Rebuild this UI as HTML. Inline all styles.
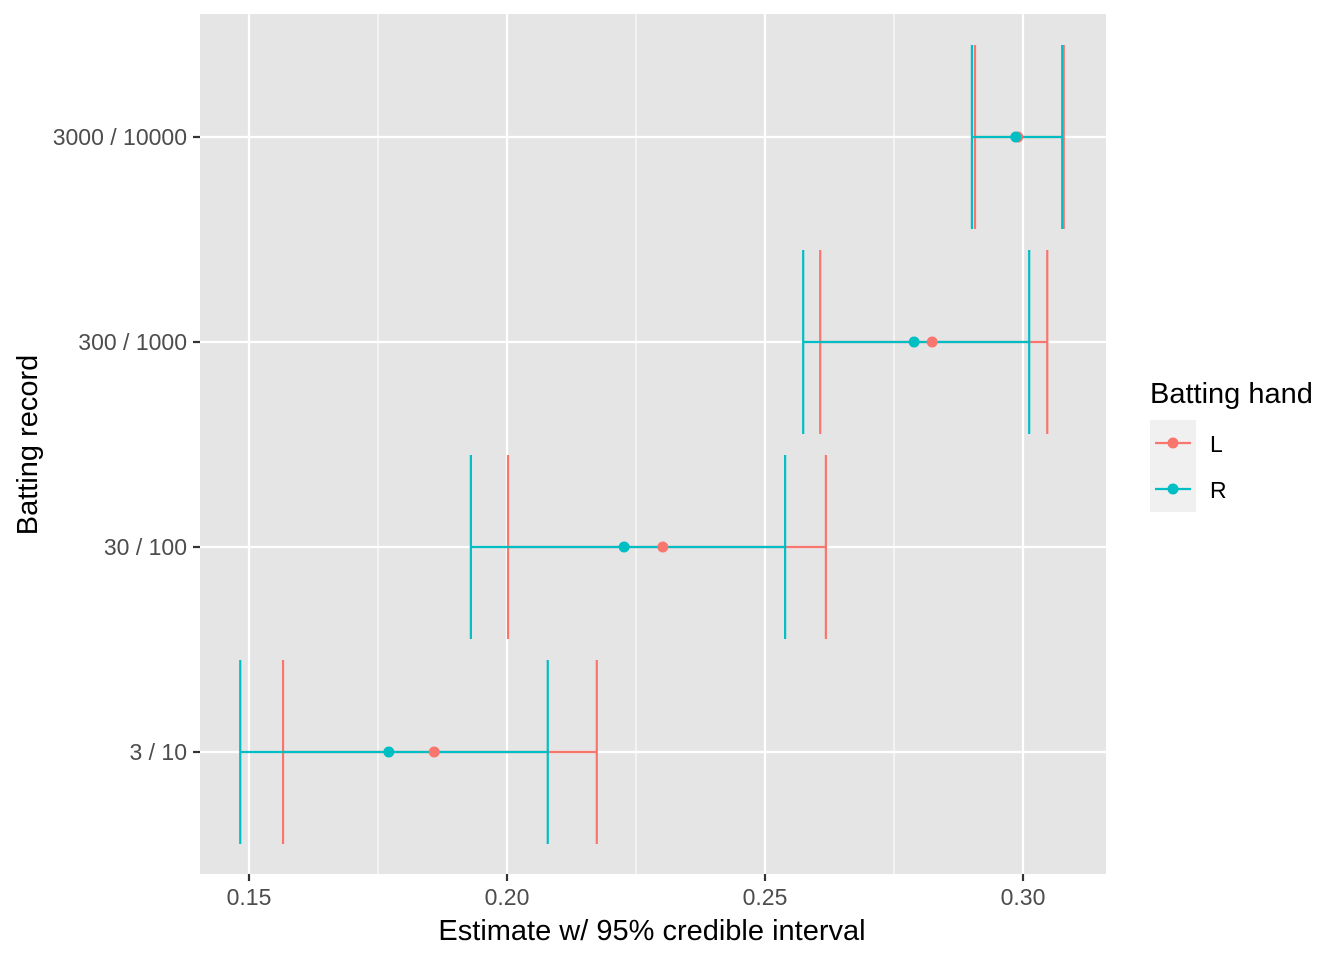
<!DOCTYPE html>
<html><head><meta charset="utf-8"><style>
html,body{margin:0;padding:0;background:#fff;}
svg{display:block;font-family:"Liberation Sans",Arial,sans-serif;}
</style></head><body>
<svg id="chart" width="1344" height="960" viewBox="0 0 1344 960">
<rect x="200" y="14" width="906" height="860" fill="#e5e5e5"/>
<g id="grid"></g>
<g id="marks"></g>
<g id="axes"></g>
<text x="652" y="940" text-anchor="middle" font-size="29" fill="#000">Estimate w/ 95% credible interval</text>
<text transform="translate(37,445) rotate(-90)" text-anchor="middle" font-size="29" fill="#000">Batting record</text>
<g>
<text x="1150" y="403" font-size="29" fill="#000">Batting hand</text>
<rect x="1150" y="420" width="46" height="92" fill="#f0f0f0"/>
<g>
<line x1="1155" y1="443" x2="1191" y2="443" stroke="#F8766D" stroke-width="2.2"/>
<circle cx="1173" cy="443" r="5.5" fill="#F8766D"/>
<text x="1210" y="452" font-size="23" fill="#000">L</text></g>
<g>
<line x1="1155" y1="489" x2="1191" y2="489" stroke="#00BFC4" stroke-width="2.2"/>
<circle cx="1173" cy="489" r="5.5" fill="#00BFC4"/>
<text x="1210" y="498" font-size="23" fill="#000">R</text></g>
</g>
</svg>
<script>
const categories=["3 / 10","30 / 100","300 / 1000","3000 / 10000"];
const lowL=[0.1566,0.2002,0.2607,0.2907];
const estL=[0.1859,0.2302,0.2824,0.2990];
const highL=[0.2174,0.2618,0.3047,0.3079];
const lowR=[0.1483,0.1930,0.2574,0.2901];
const estR=[0.1771,0.2227,0.2789,0.2986];
const highR=[0.2079,0.2539,0.3012,0.3076];
const xTicks=[0.15,0.20,0.25,0.30];
const xTickLabels=["0.15","0.20","0.25","0.30"];
const xMinor=[0.175,0.225,0.275];

const NS="http://www.w3.org/2000/svg";
const xs=v=>249+(v-0.15)*5160;
const ys=i=>752-i*205;
function mk(parent,tag,attrs){const e=document.createElementNS(NS,tag);for(const k in attrs)e.setAttribute(k,attrs[k]);parent.appendChild(e);return e;}
const grid=document.getElementById('grid'),marks=document.getElementById('marks'),axes=document.getElementById('axes');
xMinor.forEach(v=>{const l=mk(grid,'line',{x1:xs(v),x2:xs(v),y1:14,y2:874,stroke:'#fff','stroke-width':1.1});

});
xTicks.forEach((v,i)=>{const l=mk(grid,'line',{x1:xs(v),x2:xs(v),y1:14,y2:874,stroke:'#fff','stroke-width':2.2});


const t=mk(axes,'line',{x1:xs(v),x2:xs(v),y1:874,y2:881,stroke:'#333','stroke-width':2.2});


const tx=mk(axes,'text',{x:xs(v),y:905,'text-anchor':'middle','font-size':23,fill:'#4d4d4d'});tx.textContent=xTickLabels[i];

});
categories.forEach((c,i)=>{const l=mk(grid,'line',{x1:200,x2:1106,y1:ys(i),y2:ys(i),stroke:'#fff','stroke-width':2.2});


const t=mk(axes,'line',{x1:193,x2:200,y1:ys(i),y2:ys(i),stroke:'#333','stroke-width':2.2});


const tx=mk(axes,'text',{x:187,y:ys(i)+8,'text-anchor':'end','font-size':23,fill:'#4d4d4d'});tx.textContent=c;

});
function bar(lo,hi,i,col,name){const g=mk(marks,'g',{stroke:col,'stroke-width':2.2});


const y=ys(i);mk(g,'line',{x1:xs(lo),x2:xs(hi),y1:y,y2:y});mk(g,'line',{x1:xs(lo),x2:xs(lo),y1:y-92,y2:y+92});mk(g,'line',{x1:xs(hi),x2:xs(hi),y1:y-92,y2:y+92});}
categories.forEach((c,i)=>bar(lowL[i],highL[i],i,'#F8766D','errorbar-l'));
categories.forEach((c,i)=>bar(lowR[i],highR[i],i,'#00BFC4','errorbar-r'));
categories.forEach((c,i)=>{const p=mk(marks,'circle',{cx:xs(estL[i]),cy:ys(i),r:5.5,fill:'#F8766D'});

});
categories.forEach((c,i)=>{const p=mk(marks,'circle',{cx:xs(estR[i]),cy:ys(i),r:5.5,fill:'#00BFC4'});

});
</script>
</body></html>
